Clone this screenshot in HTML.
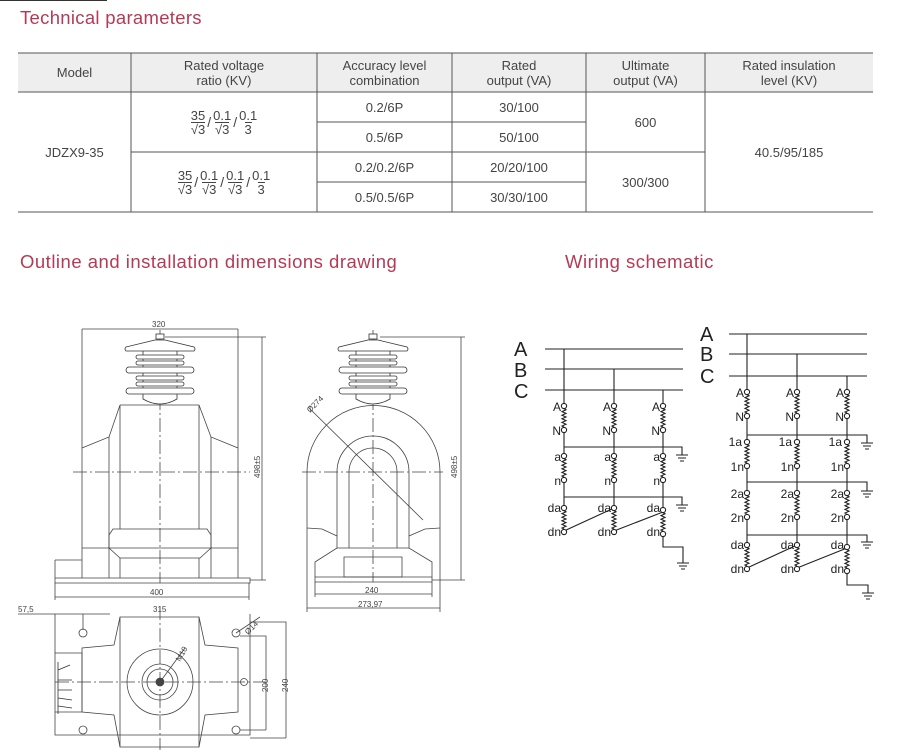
<!DOCTYPE html>
<html><head><meta charset="utf-8"><style>
body{margin:0;width:914px;height:755px;background:#fff;position:relative;font-family:"Liberation Sans",sans-serif;color:#444;overflow:hidden}
.t{position:absolute;color:#b53a55;font-size:18.5px;letter-spacing:0.3px}
.c{position:absolute;display:flex;align-items:center;justify-content:center;text-align:center;font-size:13px;line-height:15px;color:#444}
.fr{display:inline-flex;flex-direction:column;align-items:center;vertical-align:middle;font-size:13px;line-height:13px}
.fr span+span{border-top:1px solid #444}
.sl{display:inline-block;vertical-align:middle;margin:0 2px;font-size:14px}
svg{position:absolute;left:0;top:0}
</style></head><body>
<div style="position:absolute;left:0;top:0;width:107px;height:1px;background:#333"></div>
<div class="t" style="left:20px;top:7px">Technical parameters</div>
<div class="t" style="left:20px;top:251px;letter-spacing:0.5px">Outline and installation dimensions drawing</div>
<div class="t" style="left:565px;top:251px;letter-spacing:0.5px">Wiring schematic</div>
<div style="position:absolute;left:18px;top:53px;width:855px;height:39px;background:#eeeeee"></div>
<div class="c" style="left:18px;top:53px;width:113px;height:39px">Model</div>
<div class="c" style="left:131px;top:53px;width:186px;height:39px">Rated voltage<br>ratio (KV)</div>
<div class="c" style="left:317px;top:53px;width:135px;height:39px">Accuracy level<br>combination</div>
<div class="c" style="left:452px;top:53px;width:134px;height:39px">Rated<br>output (VA)</div>
<div class="c" style="left:586px;top:53px;width:119px;height:39px">Ultimate<br>output (VA)</div>
<div class="c" style="left:705px;top:53px;width:168px;height:39px">Rated insulation<br>level (KV)</div>
<div class="c" style="left:18px;top:92px;width:113px;height:120px">JDZX9-35</div>
<div class="c" style="left:131px;top:92px;width:186px;height:60px"><span class="fr"><span>35</span><span>√3</span></span><span class="sl">/</span><span class="fr"><span>0.1</span><span>√3</span></span><span class="sl">/</span><span class="fr"><span>0.1</span><span>3</span></span></div>
<div class="c" style="left:131px;top:152px;width:186px;height:60px"><span class="fr"><span>35</span><span>√3</span></span><span class="sl">/</span><span class="fr"><span>0.1</span><span>√3</span></span><span class="sl">/</span><span class="fr"><span>0.1</span><span>√3</span></span><span class="sl">/</span><span class="fr"><span>0.1</span><span>3</span></span></div>
<div class="c" style="left:317px;top:92px;width:135px;height:30px">0.2/6P</div>
<div class="c" style="left:317px;top:122px;width:135px;height:30px">0.5/6P</div>
<div class="c" style="left:317px;top:152px;width:135px;height:30px">0.2/0.2/6P</div>
<div class="c" style="left:317px;top:182px;width:135px;height:30px">0.5/0.5/6P</div>
<div class="c" style="left:452px;top:92px;width:134px;height:30px">30/100</div>
<div class="c" style="left:452px;top:122px;width:134px;height:30px">50/100</div>
<div class="c" style="left:452px;top:152px;width:134px;height:30px">20/20/100</div>
<div class="c" style="left:452px;top:182px;width:134px;height:30px">30/30/100</div>
<div class="c" style="left:586px;top:92px;width:119px;height:60px">600</div>
<div class="c" style="left:586px;top:152px;width:119px;height:60px">300/300</div>
<div class="c" style="left:705px;top:92px;width:168px;height:120px">40.5/95/185</div>

<svg width="914" height="755" viewBox="0 0 914 755">
<defs>
<g id="ins" fill="#fff" stroke="#333" stroke-width="0.8">
<path d="M-17,14 V62 Q0,72 17,62 V14"/>
<path d="M-5,3 L-34,10 Q-36,12 -34,14 H34 Q36,12 34,10 L5,3 Z"/>
<rect x="-24" y="18" width="48" height="4" rx="2"/><rect x="-24" y="24" width="48" height="4" rx="2"/>
<rect x="-34" y="30" width="68" height="6" rx="3"/>
<rect x="-24" y="39" width="48" height="4" rx="2"/><rect x="-24" y="45" width="48" height="4" rx="2"/>
<rect x="-34" y="51" width="68" height="6" rx="3"/>
<rect x="-4" y="-3" width="8" height="5"/>
</g>
<g id="coil" fill="none" stroke="#222" stroke-width="1.1">
<circle cx="0" cy="0" r="2.6" fill="#fff"/><circle cx="0" cy="24" r="2.6" fill="#fff"/>
<path d="M0,2.6 l2,1.2 l-4,1.8 l4,1.8 l-4,1.8 l4,1.8 l-4,1.8 l4,1.8 l-4,1.8 l4,1.8 l-4,1.8 l2,1"/>
</g>
<g id="gnd" stroke="#222" stroke-width="1.1"><path d="M-6,0 H6 M-4,3 H4 M-2,6 H2"/></g>
</defs>
<g stroke="#555" stroke-width="1" fill="none">
<line x1="18" y1="53" x2="873" y2="53"/><line x1="18" y1="92" x2="873" y2="92"/><line x1="18" y1="212" x2="873" y2="212"/>
<line x1="131" y1="53" x2="131" y2="212"/><line x1="317" y1="53" x2="317" y2="212"/><line x1="452" y1="53" x2="452" y2="212"/><line x1="586" y1="53" x2="586" y2="212"/><line x1="705" y1="53" x2="705" y2="212"/>
<line x1="131" y1="152" x2="705" y2="152"/>
<line x1="317" y1="122" x2="586" y2="122"/><line x1="317" y1="182" x2="586" y2="182"/>
</g>

<g stroke="#444" stroke-width="0.8" fill="none">
<path d="M82,329 H238 M82,329 V578 M238,329 V578"/>
<path d="M165,337 H266 M262,337 V580 M250,580 H266"/>
<path d="M120,405 H199 M120,405 L109,437 L82,448 M199,405 L211,437 L238,448"/>
<path d="M109,437 V578 M211,437 V578 M120,405 V529 M199,405 V529"/>
<path d="M113,529 H207 L211,535 V548 L200,558 H120 L109,548 V535 Z"/>
<path d="M120,558 V578 M199,558 V578 M82,548 H238"/>
<path d="M55,578 H250 V583 H55 Z M55,560 H82 M55,560 V578"/>
<path d="M73,472 H250 M160,330 V583" stroke-dasharray="14,3,2,3"/>
<path d="M55,583 V600 M249,583 V600 M55,597 H249"/>
</g>
<use href="#ins" x="160" y="337"/>
<g font-size="8" fill="#444" font-family="Liberation Sans,sans-serif">
<text x="152" y="327">320</text><text x="150" y="595">400</text>
<text transform="translate(260,478) rotate(-90)">498±5</text>
<text transform="translate(457,478) rotate(-90)">498±5</text>
<text x="365" y="593">240</text><text x="358" y="607">273,97</text>
<text transform="translate(310,413) rotate(-45)">Ø274</text>
<text x="18" y="612">57,5</text><text x="153" y="612">315</text>
<text transform="translate(248,635) rotate(-45)">Ø14</text>
<text transform="translate(180,662) rotate(-60)">M10</text>
<text transform="translate(268,692) rotate(-90)">200</text>
<text transform="translate(288,692) rotate(-90)">240</text>
</g>

<g stroke="#444" stroke-width="0.8" fill="none">
<path d="M307,472 A66,66 0 0 1 440,472 V528 M307,472 V528"/>
<path d="M337,472 A36,36 0 0 1 409,472 V548 M337,472 V548"/>
<path d="M349,472 A24,24 0 0 1 397,472 V548 M349,472 V548"/>
<path d="M307,528 L322,529 L337,536 M440,528 L425,529 L409,536"/>
<path d="M337,548 H409 L432,562 V577 M337,548 L315,562 V577"/>
<path d="M344,557 H402 V577 H344 Z"/>
<path d="M315,577 H432 V582 H315 Z M432,580 H465 M461,337 V580 M380,337 H465"/>
<path d="M315,582 V597 M432,582 V597 M315,594 H432 M307,528 V612 M440,528 V612 M307,608 H440"/>
<path d="M308,407 L423,520"/>
<path d="M302,472 H443 M373,330 V582" stroke-dasharray="14,3,2,3"/>
</g>
<use href="#ins" x="373" y="337"/>

<g stroke="#444" stroke-width="0.8" fill="none">
<path d="M18,614 H110 M55,614 V735 H250 V614 M83,614 V630 M120,617 H199 V747 H120 Z"/>
<path d="M120,617 L114,645 L82,648 V712 L114,715 L120,747 M199,617 L205,645 L238,648 V712 L205,715 L199,747"/>
<path d="M55,653 H82 V712 H55"/>
<circle cx="160" cy="682" r="33"/><circle cx="160" cy="682" r="18"/><circle cx="160" cy="682" r="13"/><circle cx="160" cy="682" r="4" fill="#444"/>
<circle cx="83" cy="633" r="4"/><circle cx="236" cy="633" r="4"/><circle cx="83" cy="730" r="4"/><circle cx="236" cy="730" r="4"/><circle cx="244" cy="682" r="3.5"/>
<path d="M160,682 L185,648 M236,633 L260,617"/>
<path d="M240,636 H266 V730 M240,730 H266 M250,622 H286 V738 M250,738 H286"/>
<path d="M55,682 H265 M160,606 V750" stroke-dasharray="14,3,2,3"/>
<path d="M58,670 L70,665 M58,680 L72,680 M58,690 L72,690 M58,698 L72,700 M58,706 L72,708 M58,662 V714" stroke="#333"/>
</g>

<g stroke="#222" stroke-width="1.1" fill="none">
<path d="M545,349 H683 M545,369 H683 M545,390 H683"/>
<path d="M564,349 V403 M614,369 V403 M663,390 V403"/>
<path d="M564,433 V447 M614,433 V447 M663,433 V447 M564,447 H682 V455"/>
<path d="M564,447 V453 M614,447 V453 M663,447 V453"/>
<path d="M564,483 V497 M614,483 V497 M663,483 V497 M564,497 H682 V505"/>
<path d="M564,497 V505 M614,497 V505 M663,497 V509"/>
<path d="M564,531 L614,508 M614,531 L663,512 M663,534 V547 H683 V563"/>
</g>
<g font-family="Liberation Sans,sans-serif" fill="#222">
<text x="514" y="356" font-size="20">A</text><text x="514" y="377" font-size="20">B</text><text x="514" y="398" font-size="20">C</text>
<g font-size="12" text-anchor="end">
<text x="561" y="411">A</text><text x="561" y="435">N</text><text x="611" y="411">A</text><text x="611" y="435">N</text><text x="660" y="411">A</text><text x="660" y="435">N</text>
<text x="561" y="461">a</text><text x="561" y="485">n</text><text x="611" y="461">a</text><text x="611" y="485">n</text><text x="660" y="461">a</text><text x="660" y="485">n</text>
<text x="561" y="512">da</text><text x="561" y="536">dn</text><text x="611" y="512">da</text><text x="611" y="536">dn</text><text x="660" y="512">da</text><text x="660" y="536">dn</text>
</g></g>
<use href="#coil" x="564" y="406"/><use href="#coil" x="614" y="406"/><use href="#coil" x="663" y="406"/>
<use href="#coil" x="564" y="456"/><use href="#coil" x="614" y="456"/><use href="#coil" x="663" y="456"/>
<use href="#coil" x="564" y="508"/><use href="#coil" x="614" y="508"/><use href="#coil" x="663" y="510"/>
<use href="#gnd" x="682" y="455"/><use href="#gnd" x="682" y="505"/><use href="#gnd" x="683" y="563"/>

<g stroke="#222" stroke-width="1.1" fill="none">
<path d="M729,334 H867 M729,354 H867 M729,376 H867"/>
<path d="M747,334 V389 M797,354 V389 M847,376 V389"/>
<path d="M747,419 V439 M797,419 V439 M847,419 V439 M747,435 H867 V443"/>
<path d="M747,469 V490 M797,469 V490 M847,469 V490 M747,482 H867 V491"/>
<path d="M747,520 V542 M797,520 V542 M847,520 V544 M747,535 H867 V542"/>
<path d="M747,568 L797,545 M797,568 L847,548 M847,571 V585 H868 V593"/>
</g>
<g font-family="Liberation Sans,sans-serif" fill="#222">
<text x="700" y="341" font-size="20">A</text><text x="700" y="361" font-size="20">B</text><text x="700" y="383" font-size="20">C</text>
<g font-size="12" text-anchor="end">
<text x="744" y="397">A</text><text x="744" y="421">N</text><text x="794" y="397">A</text><text x="794" y="421">N</text><text x="844" y="397">A</text><text x="844" y="421">N</text>
<text x="742" y="446">1a</text><text x="744" y="471">1n</text><text x="792" y="446">1a</text><text x="794" y="471">1n</text><text x="842" y="446">1a</text><text x="844" y="471">1n</text>
<text x="744" y="498">2a</text><text x="744" y="522">2n</text><text x="794" y="498">2a</text><text x="794" y="522">2n</text><text x="844" y="498">2a</text><text x="844" y="522">2n</text>
<text x="744" y="549">da</text><text x="744" y="573">dn</text><text x="794" y="549">da</text><text x="794" y="573">dn</text><text x="844" y="549">da</text><text x="844" y="573">dn</text>
</g></g>
<use href="#coil" x="747" y="392"/><use href="#coil" x="797" y="392"/><use href="#coil" x="847" y="392"/>
<use href="#coil" x="747" y="442"/><use href="#coil" x="797" y="442"/><use href="#coil" x="847" y="442"/>
<use href="#coil" x="747" y="493"/><use href="#coil" x="797" y="493"/><use href="#coil" x="847" y="493"/>
<use href="#coil" x="747" y="545"/><use href="#coil" x="797" y="545"/><use href="#coil" x="847" y="547"/>
<use href="#gnd" x="867" y="443"/><use href="#gnd" x="867" y="491"/><use href="#gnd" x="867" y="542"/><use href="#gnd" x="868" y="593"/>
</svg>
</body></html>
